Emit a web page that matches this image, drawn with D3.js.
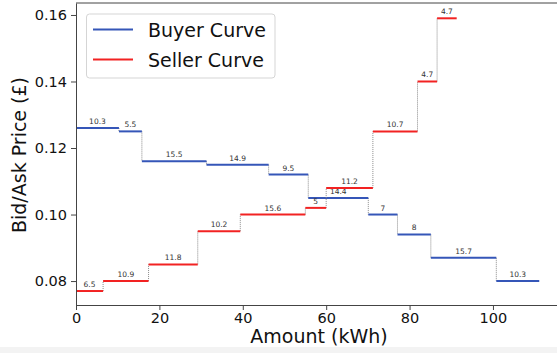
<!DOCTYPE html>
<html>
<head>
<meta charset="utf-8">
<script src="https://cdn.jsdelivr.net/npm/d3@7"></script>
<style>
  html, body { margin: 0; padding: 0; background: #fff; }
  svg { display: block; font-family: "DejaVu Sans", sans-serif; }
</style>
</head>
<body>
<svg id="chart" width="557" height="353"></svg>
<script>
// ---- data ----
const buyerWidths = [10.3, 5.5, 15.5, 14.9, 9.5, 14.4, 7, 8, 15.7, 10.3];
const buyerPrices = [0.126, 0.125, 0.116, 0.115, 0.112, 0.105, 0.100, 0.094, 0.087, 0.080];
const sellerWidths = [6.5, 10.9, 11.8, 10.2, 15.6, 5, 11.2, 10.7, 4.7, 4.7];
const sellerPrices = [0.077, 0.080, 0.085, 0.095, 0.100, 0.102, 0.108, 0.125, 0.140, 0.159];
const xTicks = [0, 20, 40, 60, 80, 100];
const yTicks = [0.08, 0.10, 0.12, 0.14, 0.16];
const seriesNames = ["Buyer Curve", "Seller Curve"];

const BLUE = "#3556b8", RED = "#f22222";

const svg = d3.select("#chart");
const W = 557, H = 353;

// bottom light strip of the page
svg.append("rect").attr("x", 0).attr("y", 347).attr("width", W).attr("height", H - 347).attr("fill", "#f3f3f3");

const x = d3.scaleLinear().domain([0, 116.7]).range([76, 562.6]);
const y = d3.scaleLinear().domain([0.0728, 0.1636]).range([305, 3]);

function steps(widths, prices) {
  const ends = Array.from(d3.cumsum(widths));
  return widths.map((w, i) => ({ x0: ends[i] - w, x1: ends[i], p: prices[i], w }));
}
const buyer = steps(buyerWidths, buyerPrices);
const seller = steps(sellerWidths, sellerPrices);

const plot = svg.append("g");

function drawSeries(data, color) {
  // vertical dotted connectors
  const conn = data.slice(1).map((d, i) => ({ x: d.x0, a: data[i].p, b: d.p }));
  plot.selectAll(null).data(conn).enter().append("line")
    .attr("x1", d => x(d.x)).attr("x2", d => x(d.x))
    .attr("y1", d => y(d.a)).attr("y2", d => y(d.b))
    .attr("stroke", "#8a8a8a").attr("stroke-width", 1).attr("stroke-dasharray", "1,1");
  plot.selectAll(null).data(data).enter().append("line")
    .attr("x1", d => x(d.x0)).attr("x2", d => x(d.x1))
    .attr("y1", d => y(d.p)).attr("y2", d => y(d.p))
    .attr("stroke", color).attr("stroke-width", 2);
  plot.selectAll(null).data(data).enter().append("text")
    .attr("x", d => x((d.x0 + d.x1) / 2)).attr("y", d => y(d.p) - 4)
    .attr("text-anchor", "middle").attr("font-size", 7.5).attr("fill", "#333")
    .text(d => d.w);
}
drawSeries(buyer, BLUE);
drawSeries(seller, RED);

// axes
const xAxis = svg.append("g").attr("transform", "translate(0,305)")
  .call(d3.axisBottom(x).tickValues(xTicks).tickFormat(d3.format("d")).tickSize(5).tickPadding(3).tickSizeOuter(0));
const yAxis = svg.append("g").attr("transform", "translate(76,0)")
  .call(d3.axisLeft(y).tickValues(yTicks).tickFormat(d3.format(".2f")).tickSize(5).tickPadding(4).tickSizeOuter(0));
[xAxis, yAxis].forEach(a => {
  a.select(".domain").attr("stroke", "#444").attr("stroke-width", 1);
  a.selectAll(".tick line").attr("stroke", "#444");
  a.selectAll(".tick text").attr("font-size", 14.5).attr("fill", "#111").attr("font-family", "DejaVu Sans, sans-serif");
});
// top spine
svg.append("line").attr("x1", 76).attr("x2", W).attr("y1", 3).attr("y2", 3).attr("stroke", "#444");

// axis labels
svg.append("text").attr("x", 319).attr("y", 343).attr("text-anchor", "middle")
  .attr("font-size", 19).attr("fill", "#111").text("Amount (kWh)");
svg.append("text").attr("transform", "translate(26,155) rotate(-90)").attr("text-anchor", "middle")
  .attr("font-size", 19).attr("fill", "#111").text("Bid/Ask Price (£)");

// legend
const lg = svg.append("g");
lg.append("rect").attr("x", 86.5).attr("y", 14).attr("width", 188.5).attr("height", 64).attr("rx", 3)
  .attr("fill", "#fff").attr("fill-opacity", 0.85).attr("stroke", "#d5d5d5");
const legendColors = [BLUE, RED];
seriesNames.forEach((n, i) => {
  const ly = 29.5 + i * 30;
  lg.append("line").attr("x1", 93).attr("x2", 133).attr("y1", ly).attr("y2", ly)
    .attr("stroke", legendColors[i]).attr("stroke-width", 2);
  lg.append("text").attr("x", 148).attr("y", ly + 7).attr("font-size", 19).attr("fill", "#111").text(n);
});
</script>
</body>
</html>
